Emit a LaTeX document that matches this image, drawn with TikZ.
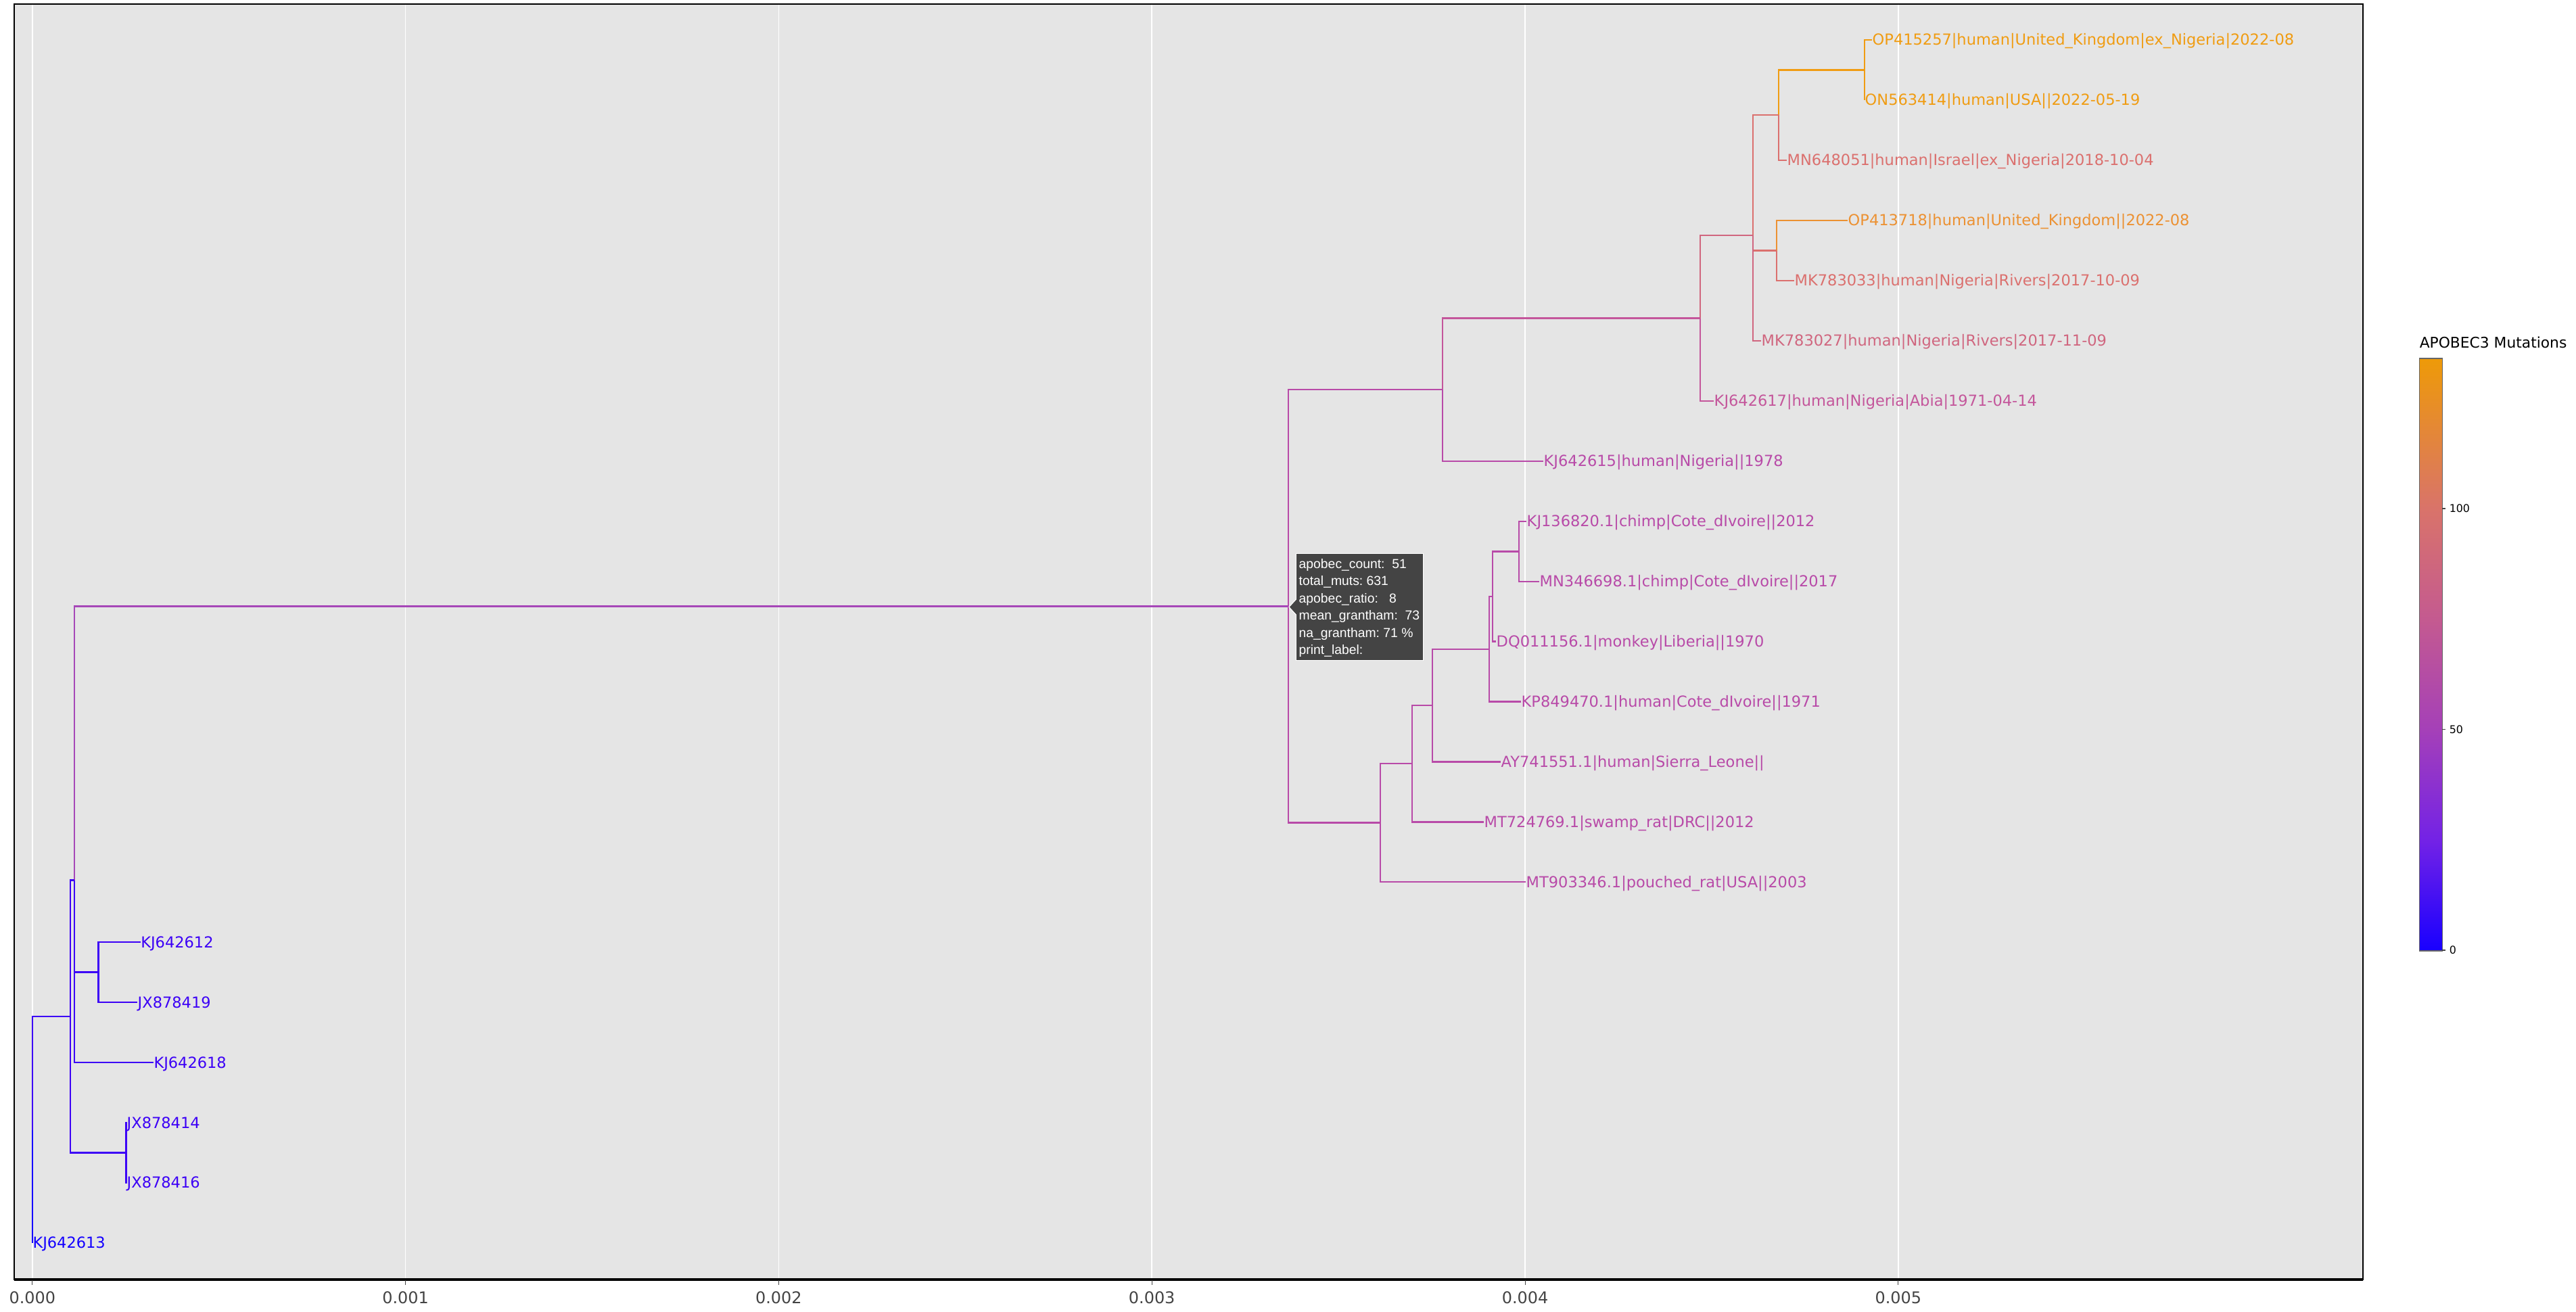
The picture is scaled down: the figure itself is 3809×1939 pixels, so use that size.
\documentclass[tikz,border=0pt]{standalone}
\usepackage{fontspec}
\setmainfont{DejaVu Sans}
\newfontfamily\tipfont{Liberation Sans}
\usetikzlibrary{positioning}

\definecolor{panel}{HTML}{E5E5E5}
\definecolor{axisgray}{HTML}{444444}
\definecolor{tipgray}{HTML}{444444}
\definecolor{cblueA}{HTML}{1400FF}
\definecolor{cblue}{HTML}{3C00F6}
\definecolor{cviolet}{HTML}{A647B8}
\definecolor{cmag}{HTML}{B84AA8}
\definecolor{cmagpink}{HTML}{C4569B}
\definecolor{cpink}{HTML}{D0667F}
\definecolor{csalmon}{HTML}{DB706E}
\definecolor{corangeB}{HTML}{EC9132}
\definecolor{corange}{HTML}{F09C12}
% colour bar stops
\definecolor{cb0}{HTML}{1800FF}
\definecolor{cb25}{HTML}{7322E6}
\definecolor{cb50}{HTML}{A540B8}
\definecolor{cb75}{HTML}{C45A90}
\definecolor{cb100}{HTML}{D9736A}
\definecolor{cbtop}{HTML}{EE9A08}
\pgfdeclareverticalshading{apobec}{100bp}{color(0bp)=(cb0); color(25bp)=(cb0);
  color(34.3bp)=(cb25); color(43.7bp)=(cb50); color(53bp)=(cb75);
  color(62.3bp)=(cb100); color(75bp)=(cbtop); color(100bp)=(cbtop)}

\begin{document}
\begin{tikzpicture}[x=0.01cm, y=-0.01cm,
    branch/.style={line width=0.65pt},
    leaf/.style={anchor=west, inner sep=0pt, text height=4.5pt, text depth=0pt,
      font=\fontsize{6.4}{7.7}\selectfont},
    ticklabel/.style={text=axisgray, inner sep=0pt, font=\fontsize{6.8}{8}\selectfont},
    tipbox/.style={fill=tipgray, draw=white, line width=0.3pt, inner sep=0pt,
      minimum width=1.88cm, minimum height=1.58cm},
    tiptext/.style={text=white, inner sep=0pt, font=\tipfont\fontsize{5.5}{7}\selectfont}]

    \useasboundingbox (0,0) rectangle (3809,1939);
    \fill[white] (0,0) rectangle (3809,1939);

    % panel and grid
    \fill[panel] (21,6) rectangle (3494,1892);
    \foreach \k in {0,...,5}
        \draw[white, line width=0.5pt] ({47.8+551.8*\k},6) -- ({47.8+551.8*\k},1892);

    % internal nodes
    \coordinate (r) at (47.8,1670.5);
    \coordinate (a) at (104,1503);
    \coordinate (b) at (110,1301.6);
    \coordinate (c) at (186.6,1704.5);
    \coordinate (d) at (145.5,1437.5);
    \coordinate (e) at (1905,896.4);
    \coordinate (f) at (2041,1216.5);
    \coordinate (h) at (2088,1129);
    \coordinate (i) at (2118,1043);
    \coordinate (j) at (2202,960);
    \coordinate (k) at (2207,882.3);
    \coordinate (l) at (2246,815.5);
    \coordinate (g) at (2133,576.3);
    \coordinate (m) at (2514,470.6);
    \coordinate (n) at (2592,348.3);
    \coordinate (o) at (2630,170.3);
    \coordinate (q) at (2757,103.5);
    \coordinate (p) at (2627,370.5);

    % tips
    \node[leaf, text=corange]  (op415257) at (2768,59)   {OP415257|human|United\_Kingdom|ex\_Nigeria|2022-08};
    \node[leaf, text=corange]  (on563414) at (2757,148)  {ON563414|human|USA||2022-05-19};
    \node[leaf, text=csalmon]  (mn648051) at (2642,237)  {MN648051|human|Israel|ex\_Nigeria|2018-10-04};
    \node[leaf, text=corangeB] (op413718) at (2732,326)  {OP413718|human|United\_Kingdom||2022-08};
    \node[leaf, text=csalmon]  (mk783033) at (2653,415)  {MK783033|human|Nigeria|Rivers|2017-10-09};
    \node[leaf, text=cpink]    (mk783027) at (2604,504)  {MK783027|human|Nigeria|Rivers|2017-11-09};
    \node[leaf, text=cmagpink] (kj642617) at (2534,593)  {KJ642617|human|Nigeria|Abia|1971-04-14};
    \node[leaf, text=cmag]     (kj642615) at (2282,682)  {KJ642615|human|Nigeria||1978};
    \node[leaf, text=cmag]     (kj136820) at (2257,771)  {KJ136820.1|chimp|Cote\_dIvoire||2012};
    \node[leaf, text=cmag]     (mn346698) at (2276,860)  {MN346698.1|chimp|Cote\_dIvoire||2017};
    \node[leaf, text=cmag]     (dq011156) at (2212,948.5) {DQ011156.1|monkey|Liberia||1970};
    \node[leaf, text=cmag]     (kp849470) at (2249,1037.5) {KP849470.1|human|Cote\_dIvoire||1971};
    \node[leaf, text=cmag]     (ay741551) at (2219,1126.4) {AY741551.1|human|Sierra\_Leone||};
    \node[leaf, text=cmag]     (mt724769) at (2194,1215.4) {MT724769.1|swamp\_rat|DRC||2012};
    \node[leaf, text=cmag]     (mt903346) at (2256,1304.3) {MT903346.1|pouched\_rat|USA||2003};
    \node[leaf, text=cblue]    (kj642612) at (207.6,1393.3) {KJ642612};
    \node[leaf, text=cblue]    (jx878419) at (203,1482.2)   {JX878419};
    \node[leaf, text=cblue]    (kj642618) at (226.8,1571.2) {KJ642618};
    \node[leaf, text=cblue]    (jx878414) at (187,1660.1)   {JX878414};
    \node[leaf, text=cblue]    (jx878416) at (187,1749)     {JX878416};
    \node[leaf, text=cblueA]   (kj642613) at (47.8,1838)    {KJ642613};

    % branches
    \draw[branch, corange]  (q) |- (op415257.west);
    \draw[branch, corange]  (q) |- (on563414.west);
    \draw[branch, corange]  (o) |- (q);
    \draw[branch, csalmon]  (o) |- (mn648051.west);
    \draw[branch, corangeB] (p) |- (op413718.west);
    \draw[branch, csalmon]  (p) |- (mk783033.west);
    \draw[branch, csalmon]  (n) |- (o);
    \draw[branch, csalmon]  (n) |- (p);
    \draw[branch, cpink]    (n) |- (mk783027.west);
    \draw[branch, cpink]    (m) |- (n);
    \draw[branch, cmagpink] (m) |- (kj642617.west);
    \draw[branch, cmagpink] (g) |- (m);
    \draw[branch, cmag]     (g) |- (kj642615.west);
    \draw[branch, cmag]     (e) |- (g);

    \draw[branch, cmag] (l) |- (kj136820.west);
    \draw[branch, cmag] (l) |- (mn346698.west);
    \draw[branch, cmag] (k) |- (l);
    \draw[branch, cmag] (k) |- (dq011156.west);
    \draw[branch, cmag] (j) |- (k);
    \draw[branch, cmag] (j) |- (kp849470.west);
    \draw[branch, cmag] (i) |- (j);
    \draw[branch, cmag] (i) |- (ay741551.west);
    \draw[branch, cmag] (h) |- (i);
    \draw[branch, cmag] (h) |- (mt724769.west);
    \draw[branch, cmag] (f) |- (h);
    \draw[branch, cmag] (f) |- (mt903346.west);
    \draw[branch, cmag] (e) |- (f);

    \draw[branch, cviolet] (b) |- (e);
    \draw[branch, cblue] (d) |- (kj642612.west);
    \draw[branch, cblue] (d) |- (jx878419.west);
    \draw[branch, cblue] (b) |- (d);
    \draw[branch, cblue] (b) |- (kj642618.west);
    \draw[branch, cblue] (c) |- (jx878414.west);
    \draw[branch, cblue] (c) |- (jx878416.west);
    \draw[branch, cblue] (a) |- (b);
    \draw[branch, cblue] (a) |- (c);
    \draw[branch, cblue] (r) |- (a);
    \draw[branch, cblueA] (r) |- (kj642613.west);

    % hover label
    \node[tipbox, anchor=north west] (tip) at (1916,818) {};
    \fill[tipgray] (tip.west) ++(1,-11) -- ++(-11,11) -- ++(11,11) -- cycle;
    \draw[white, line width=0.3pt] (tip.west) ++(0,-11) -- ++(-10,11) -- ++(10,11);
    \foreach \txt [count=\t from 0] in {apobec\_count:~~51, total\_muts:~631,
        apobec\_ratio:~~~8, mean\_grantham:~~73, na\_grantham:~71~\%, print\_label:}
        \node[tiptext, anchor=base west] (tipline\t) at (1920,{840+25.5*\t}) {\txt};

    % frame and x axis
    \draw[line width=0.7pt] (21,6) rectangle (3494,1892);
    \draw[line width=0.9pt] (21,1892) -- (3494,1892);
    \foreach \k in {0,...,5} {
        \draw[axisgray, line width=0.3pt] ({47.8+551.8*\k},1893) -- ({47.8+551.8*\k},1900);
        \node[ticklabel] (tick\k) at ({47.8+551.8*\k},1919) {0.00\k};
    }

    % colour bar
    \node[anchor=west, inner sep=0pt, font=\fontsize{6.2}{7}\selectfont] (cbtitle) at (3577,506) {APOBEC3 Mutations};
    \shade[shading=apobec] (3577,530) rectangle (3611,1406);
    \draw[black!60, line width=0.3pt] (3577,530) rectangle (3611,1406);
    \foreach \v/\yy in {0/1405, 50/1078.5, 100/752} {
        \draw[axisgray, line width=0.3pt] (3611,\yy) -- (3616,\yy);
        \node[anchor=west, inner sep=0pt, font=\fontsize{4.5}{5}\selectfont] (cb\v) at (3621,\yy) {\v};
    }
\end{tikzpicture}
\end{document}
